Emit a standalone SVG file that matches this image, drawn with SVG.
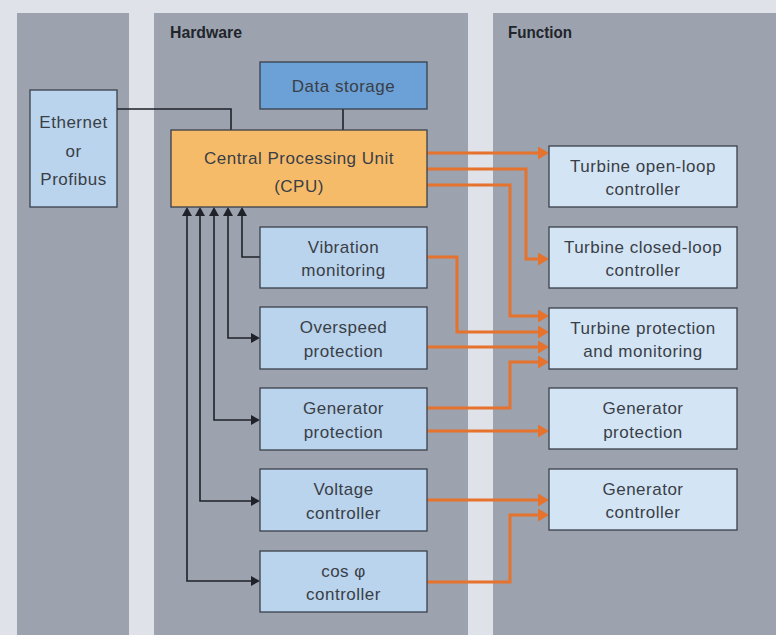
<svg xmlns="http://www.w3.org/2000/svg" width="776" height="635" viewBox="0 0 776 635">
<defs>
<style>
.panel{fill:#9ca3af}
.box{stroke:#3a3f4a;stroke-width:1.3}
.hw{fill:#b9d4ec}
.fn{fill:#d3e5f5}
.t{font-family:"Liberation Sans",Arial,sans-serif;font-size:17px;letter-spacing:0.5px;fill:#3a3e47;text-anchor:middle}
.h{font-family:"Liberation Sans",Arial,sans-serif;font-size:17px;font-weight:bold;fill:#22252b}
.blk{fill:none;stroke:#1f2229;stroke-width:1.6}
.org{fill:none;stroke:#e5722d;stroke-width:3}
</style>
<marker id="ab" markerUnits="userSpaceOnUse" markerWidth="9" markerHeight="10" viewBox="0 0 9 10" refX="0" refY="5" orient="auto-start-reverse"><path d="M0,0 L9,5 L0,10 z" fill="#1f2229"/></marker>
<marker id="ao" markerUnits="userSpaceOnUse" markerWidth="11" markerHeight="13" viewBox="0 0 11 13" refX="0" refY="6.5" orient="auto"><path d="M0,0 L11,6.5 L0,13 z" fill="#e5722d"/></marker>
</defs>
<rect width="776" height="635" fill="#dfe2e9"/>
<rect class="panel" x="17" y="13" width="112" height="622"/>
<rect class="panel" x="154" y="13" width="314" height="622"/>
<rect class="panel" x="493" y="13" width="283" height="622"/>
<text class="h" x="170" y="38" textLength="72" lengthAdjust="spacingAndGlyphs">Hardware</text>
<text class="h" x="508" y="38" textLength="64" lengthAdjust="spacingAndGlyphs">Function</text>

<g id="connectors">
<path class="blk" d="M117,109 H231 V130"/>
<path class="blk" d="M343,109 V130"/>
<path class="blk" d="M260,257 H242 V216" marker-end="url(#ab)"/>
<path class="blk" d="M251,338 H228 V216" marker-start="url(#ab)" marker-end="url(#ab)"/>
<path class="blk" d="M251,420 H214 V216" marker-start="url(#ab)" marker-end="url(#ab)"/>
<path class="blk" d="M251,501 H200 V216" marker-start="url(#ab)" marker-end="url(#ab)"/>
<path class="blk" d="M251,581 H187 V216" marker-start="url(#ab)" marker-end="url(#ab)"/>
<path class="org" d="M427,153 H538" marker-end="url(#ao)"/>
<path class="org" d="M427,169 H526 V259 H538" marker-end="url(#ao)"/>
<path class="org" d="M427,185 H510 V316 H538" marker-end="url(#ao)"/>
<path class="org" d="M427,257 H457 V332 H538" marker-end="url(#ao)"/>
<path class="org" d="M427,347 H538" marker-end="url(#ao)"/>
<path class="org" d="M427,408 H510 V362 H538" marker-end="url(#ao)"/>
<path class="org" d="M427,431 H538" marker-end="url(#ao)"/>
<path class="org" d="M427,500 H538" marker-end="url(#ao)"/>
<path class="org" d="M427,582 H510 V515 H538" marker-end="url(#ao)"/>
</g>

<g id="ethernet">
<rect class="box hw" x="30" y="90" width="87" height="117"/>
<text class="t" x="73.5" y="128">Ethernet</text>
<text class="t" x="73.5" y="157">or</text>
<text class="t" x="73.5" y="185">Profibus</text>
</g>
<g id="datastorage">
<rect class="box" fill="#6ba1d6" x="260" y="62" width="167" height="47"/>
<text class="t" x="343.5" y="92">Data storage</text>
</g>
<g id="cpu">
<rect class="box" fill="#f5bb69" x="171" y="130" width="256" height="77"/>
<text class="t" x="299" y="164">Central Processing Unit</text>
<text class="t" x="299" y="192">(CPU)</text>
</g>
<g id="vibration">
<rect class="box hw" x="260" y="227" width="167" height="61"/>
<text class="t" x="343.5" y="253">Vibration</text>
<text class="t" x="343.5" y="276">monitoring</text>
</g>
<g id="overspeed">
<rect class="box hw" x="260" y="307" width="167" height="62"/>
<text class="t" x="343.5" y="333">Overspeed</text>
<text class="t" x="343.5" y="357">protection</text>
</g>
<g id="genprot-hw">
<rect class="box hw" x="260" y="388" width="167" height="62"/>
<text class="t" x="343.5" y="414">Generator</text>
<text class="t" x="343.5" y="438">protection</text>
</g>
<g id="voltage">
<rect class="box hw" x="260" y="469" width="167" height="62"/>
<text class="t" x="343.5" y="495">Voltage</text>
<text class="t" x="343.5" y="519">controller</text>
</g>
<g id="cosphi">
<rect class="box hw" x="260" y="551" width="167" height="61"/>
<text class="t" x="343.5" y="577">cos φ</text>
<text class="t" x="343.5" y="600">controller</text>
</g>

<g id="turbine-open">
<rect class="box fn" x="549" y="146" width="188" height="61"/>
<text class="t" x="643" y="172">Turbine open-loop</text>
<text class="t" x="643" y="195">controller</text>
</g>
<g id="turbine-closed">
<rect class="box fn" x="549" y="227" width="188" height="61"/>
<text class="t" x="643" y="253">Turbine closed-loop</text>
<text class="t" x="643" y="276">controller</text>
</g>
<g id="turbine-prot">
<rect class="box fn" x="549" y="308" width="188" height="61"/>
<text class="t" x="643" y="334">Turbine protection</text>
<text class="t" x="643" y="357">and monitoring</text>
</g>
<g id="genprot-fn">
<rect class="box fn" x="549" y="388" width="188" height="61"/>
<text class="t" x="643" y="414">Generator</text>
<text class="t" x="643" y="438">protection</text>
</g>
<g id="genctrl-fn">
<rect class="box fn" x="549" y="469" width="188" height="61"/>
<text class="t" x="643" y="495">Generator</text>
<text class="t" x="643" y="518">controller</text>
</g>
</svg>
